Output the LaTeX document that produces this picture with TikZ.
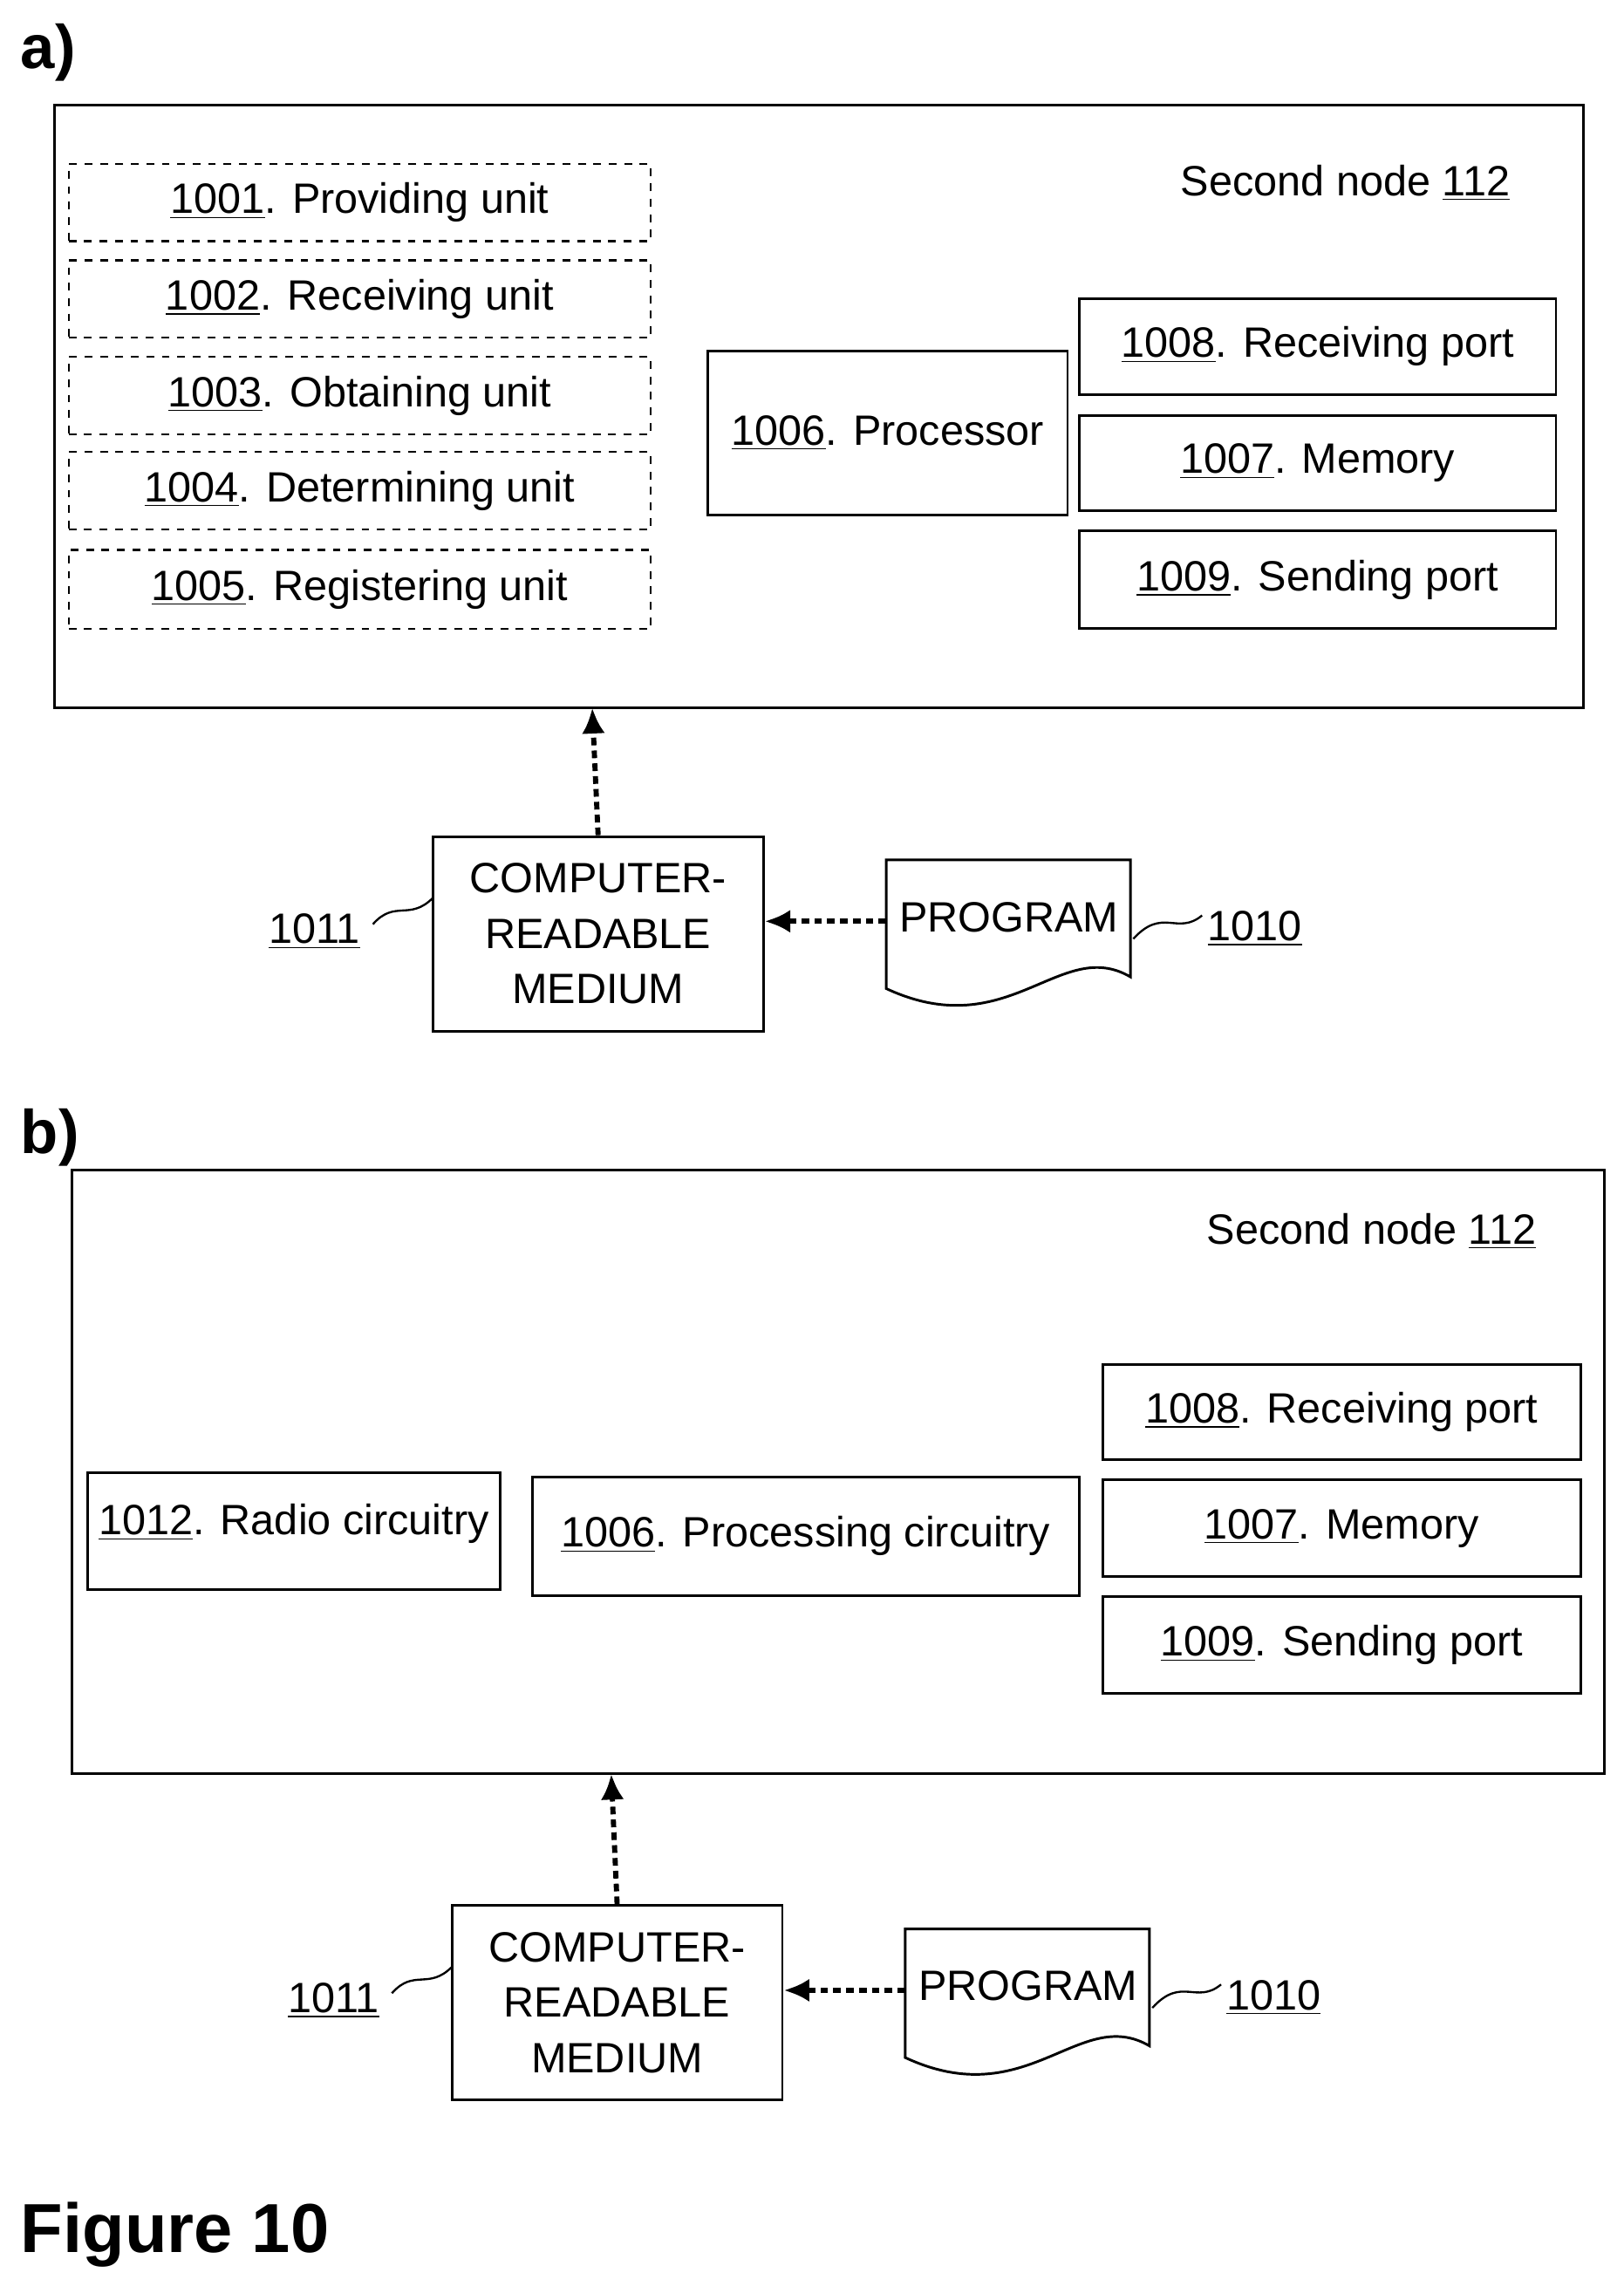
\documentclass[tikz,border=0pt]{standalone}
\usepackage{fontspec}
\setmainfont{Liberation Sans}
\usetikzlibrary{fit,arrows.meta}
\begin{document}
\begin{tikzpicture}[x=0.02cm,y=-0.02cm,
  box/.style={draw,line width=1pt,inner sep=0pt},
  dbox/.style={draw,dashed,line width=0.8pt,inner sep=0pt},
  txt/.style={font=\fontsize{16.5}{20}\selectfont,align=center,inner sep=0pt},
  arr/.style={densely dashed,line width=2pt,-{Latex[length=10pt,width=9pt]}},
  sq/.style={line width=0.8pt}]
\useasboundingbox (0,0) rectangle (1110,1568);
\newcommand\bx[6]{\node[#1,fit={(#2,#3) (#4,#5)}] (#6) {};}
\newcommand\myul[1]{\underline{#1}}
% ---------- a)
\node[font=\fontsize{24}{28}\selectfont\bfseries,anchor=west] (la) at (8,36) {a)};
\bx{box}{37}{72}{1083}{484}{oa}
\node[txt] (sna) at (920,125) {Second node \myul{112}};
\bx{dbox}{47}{112}{445}{165}{u1} \node[txt] at (u1) {\myul{1001}. Providing unit};
\bx{dbox}{47}{178}{445}{231}{u2} \node[txt] at (u2) {\myul{1002}. Receiving unit};
\bx{dbox}{47}{244}{445}{297}{u3} \node[txt] at (u3) {\myul{1003}. Obtaining unit};
\bx{dbox}{47}{309}{445}{362}{u4} \node[txt] at (u4) {\myul{1004}. Determining unit};
\bx{dbox}{47}{376}{445}{430}{u5} \node[txt] at (u5) {\myul{1005}. Registering unit};
\bx{box}{484}{240}{730}{352}{pa} \node[txt] at (pa) {\myul{1006}. Processor};
\bx{box}{738}{204}{1064}{270}{ra} \node[txt] at (ra) {\myul{1008}. Receiving port};
\bx{box}{738}{284}{1064}{349}{ma} \node[txt] at (ma) {\myul{1007}. Memory};
\bx{box}{738}{363}{1064}{430}{sa} \node[txt] at (sa) {\myul{1009}. Sending port};
% ---------- b)
\node[font=\fontsize{24}{28}\selectfont\bfseries,anchor=west] (lb) at (8,778) {b)};
\bx{box}{49}{800}{1097}{1213}{ob}
\node[txt] (snb) at (938,842) {Second node \myul{112}};
\bx{box}{60}{1007}{342}{1087}{rc} \node[txt] at (201,1042) {\myul{1012}. Radio circuitry};
\bx{box}{364}{1010}{738}{1091}{pc} \node[txt] at (pc) {\myul{1006}. Processing circuitry};
\bx{box}{754}{933}{1081}{998}{rb} \node[txt] at (rb) {\myul{1008}. Receiving port};
\bx{box}{754}{1012}{1081}{1078}{mb} \node[txt] at (mb) {\myul{1007}. Memory};
\bx{box}{754}{1092}{1081}{1158}{sb} \node[txt] at (sb) {\myul{1009}. Sending port};
% ---------- CRM + program groups
\newcommand\grp[4]{%
\begin{scope}[shift={(#1,#2)}]
\bx{box}{296}{572}{522}{705}{crm#4}
\node[txt,font=\fontsize{16.5}{21.5}\selectfont] at (crm#4) {COMPUTER-\\READABLE\\MEDIUM};
\draw[line width=1pt] (606,588) -- (773,588) -- (773,668)
  .. controls (725,640) and (690,715) .. (606,676) -- cycle;
\coordinate (prg#4) at (606,630);
\node[txt] at (690,627) {PROGRAM};
\coordinate (top#4) at (405,#3);
\node[txt] (l11#4) at (215,637) {\myul{1011}};
\draw[sq] (255,632) .. controls (270,615) and (280,630) .. (296,614);
\node[txt] (l10#4) at (858,635) {\myul{1010}};
\draw[sq] (775,642) .. controls (795,620) and (805,640) .. (822,626);
\draw[arr] (prg#4) -- (crm#4.east |- prg#4);
\draw[arr] (crm#4.north) -- (top#4);
\end{scope}}
\grp{0}{0}{484}{a}
\grp{13}{731}{482}{b}
\node[font=\fontsize{27}{32}\selectfont\bfseries,anchor=west] (fig) at (8,1528) {Figure 10};
\end{tikzpicture}
\end{document}
